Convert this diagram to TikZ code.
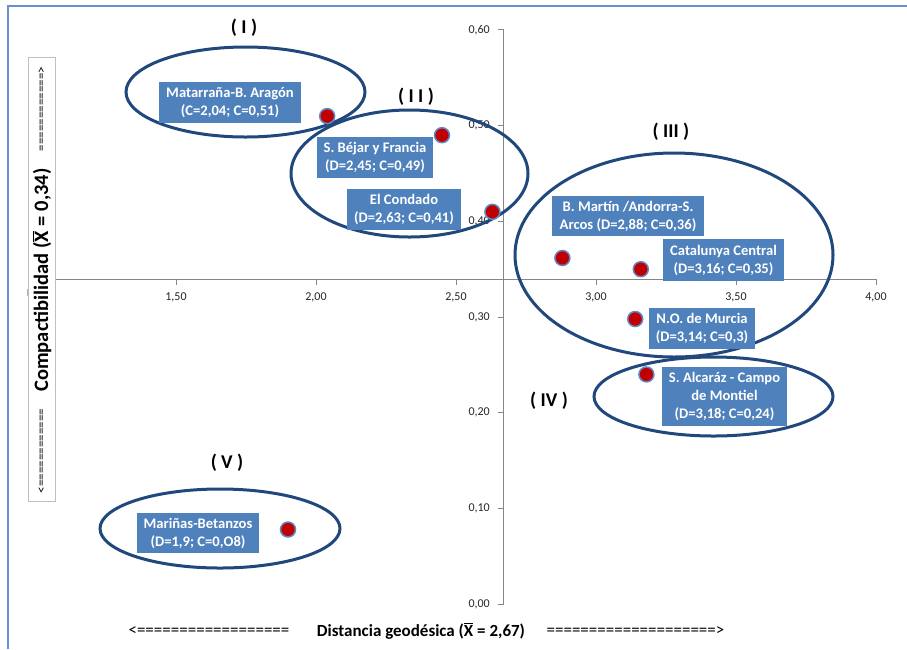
\documentclass[tikz,border=0pt]{standalone}
\usepackage{fontspec}
\setmainfont{Carlito}
\definecolor{framecol}{RGB}{104,144,206}
\definecolor{ringcol}{RGB}{33,72,124}
\definecolor{boxcol}{RGB}{79,129,189}
\definecolor{dotcol}{RGB}{192,0,0}
\definecolor{dotedge}{RGB}{96,136,196}
\definecolor{axiscol}{RGB}{134,134,134}
\newcommand{\xbar}{\ensuremath{\overline{\mbox{X}}}}
\tikzset{
  group/.style={draw=ringcol, line width=3pt},
  dot/.style={circle, fill=dotcol, draw=dotedge, line width=1.5pt, minimum size=15pt, inner sep=0pt},
  place/.style={fill=boxcol, text=white, align=center, inner sep=0pt,
                font=\fontsize{14.6}{18}\selectfont\bfseries},
  roman/.style={font=\fontsize{19.5}{22}\selectfont\bfseries},
  axis/.style={draw=axiscol, line width=1pt},
  ticklbl/.style={font=\fontsize{12}{14}\selectfont, text=black!85, inner sep=0pt},
  title/.style={font=\fontsize{17}{20}\selectfont\bfseries, inner sep=0pt},
  arrowtxt/.style={font=\fontsize{17}{20}\selectfont, inner sep=0pt},
  vtitle/.style={font=\fontsize{20.5}{23}\selectfont\bfseries, inner sep=0pt, rotate=90},
  varrow/.style={font=\fontsize{13}{15}\selectfont, inner sep=0pt, rotate=90},
}
\begin{document}
\begin{tikzpicture}[x=1pt, y=-1pt]
\useasboundingbox (0,0) rectangle (907,649);
\fill[white] (0,0) rectangle (907,649);

% chart frame (left and top edges)
\draw[framecol, line width=2pt] (8,649) -- (8,6) -- (907,6);

% axes: horizontal at C = 0,34, vertical at D = 2,67
\coordinate (xl) at (55,279);
\coordinate (xr) at (876,279);
\coordinate (yt) at (503.6,30);
\coordinate (yb) at (503.6,604);
\draw[axis] (xl) -- (xr);
\draw[axis] (yt) -- (yb);
\coordinate (stubt) at (27,289);
\coordinate (stubb) at (27,296);
\draw[draw=black!30, line width=0.8pt] (stubt) -- (stubb);

% x ticks and labels
\foreach \d/\t in {1.5/{1,50},2.0/{2,00},2.5/{2,50},3.0/{3,00},3.5/{3,50},4.0/{4,00}}{
  \pgfmathsetmacro{\xx}{-244+280*\d}
  \draw[axis] (\xx,279) -- (\xx,285);
  \node[ticklbl] (xt\d) at (\xx,297) {\t};
}
% y ticks and labels
\foreach \c/\t in {0.0/{0,00},0.1/{0,10},0.2/{0,20},0.3/{0,30},0.4/{0,40},0.5/{0,50},0.6/{0,60}}{
  \pgfmathsetmacro{\yy}{604-956.67*\c}
  \draw[axis] (497.6,\yy) -- (503.6,\yy);
  \node[ticklbl, anchor=east] (yt\c) at (490,\yy) {\t};
}

% group outlines
\draw[group] (245.5,92) ellipse [x radius=119.5, y radius=45];
\draw[group] (409.5,173.5) ellipse [x radius=118.5, y radius=63.5];
\draw[group] (674,255) ellipse [x radius=159, y radius=102];
\draw[group] (713.5,396.5) ellipse [x radius=119.5, y radius=39.5];
\draw[group] (220,528.5) ellipse [x radius=120, y radius=39.5];

% group labels
\node[roman] (g1) at (244,28) {( I )};
\node[roman] (g2) at (416,97) {( I I )};
\node[roman] (g3) at (671,132) {( III )};
\node[roman] (g4) at (549,401) {( IV )};
\node[roman] (g5) at (227,463) {( V )};

% data points
\node[dot] (p1) at (327.2,116.1) {};
\node[dot] (p2) at (442,135.2) {};
\node[dot] (p3) at (492.4,211.8) {};
\node[dot] (p4) at (562.4,258) {};
\node[dot] (p5) at (640.8,269.2) {};
\node[dot] (p6) at (635.2,319) {};
\node[dot] (p7) at (646.4,374.4) {};
\node[dot] (p8) at (288,529.5) {};

% data labels
\node[place, minimum width=142pt, minimum height=41pt] (l1) at (230,102.5)
  {Matarraña-B. Aragón\\(C=2,04; C=0,51)};
\node[place, minimum width=116pt, minimum height=41pt] (l2) at (375,157.5)
  {S. Béjar y Francia\\(D=2,45; C=0,49)};
\node[place, minimum width=114pt, minimum height=41pt] (l3) at (404,209.5)
  {El Condado\\(D=2,63; C=0,41)};
\node[place, minimum width=152pt, minimum height=40pt] (l4) at (628,216)
  {B. Martín /Andorra-S.\\Arcos (D=2,88; C=0,36)};
\node[place, minimum width=121pt, minimum height=42pt] (l5) at (723.5,260)
  {Catalunya Central\\(D=3,16; C=0,35)};
\node[place, minimum width=106pt, minimum height=41pt] (l6) at (702,328.5)
  {N.O. de Murcia\\(D=3,14; C=0,3)};
\node[place, minimum width=125pt, minimum height=59pt] (l7) at (724.5,396.5)
  {S. Alcaráz - Campo\\de Montiel\\(D=3,18; C=0,24)};
\node[place, minimum width=122pt, minimum height=40pt] (l8) at (198,533)
  {Mariñas-Betanzos\\(D=1,9; C=0,O8)};

% horizontal axis title
\node[arrowtxt] (xa1) at (209,631) {<==================};
\node[title] (xa2) at (421,631) {Distancia geodésica (\xbar{} = 2,67)};
\node[arrowtxt] (xa3) at (635.5,631) {====================>};

% vertical axis title in its framed box
\node[draw=black!25, fill=white, line width=0.8pt, minimum width=444pt, minimum height=27pt,
      rotate=90, inner sep=0pt] (ybox) at (41.5,279) {};
\node[varrow] (ya1) at (42,451) {<============};
\node[vtitle] (ya2) at (42,280) {Compactibilidad (\xbar{} = 0,34)};
\node[varrow] (ya3) at (42,109) {============>};
\end{tikzpicture}
\end{document}
